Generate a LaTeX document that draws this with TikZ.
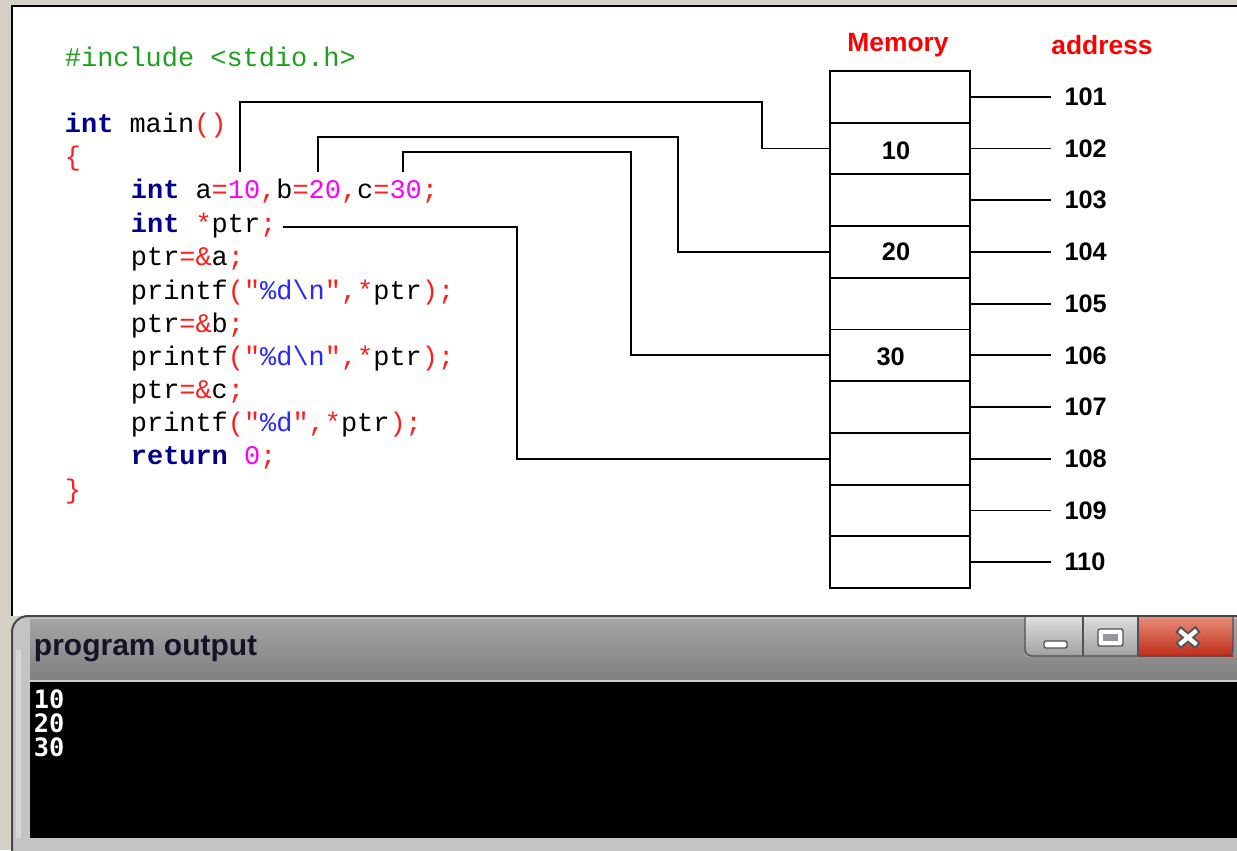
\documentclass[tikz,border=0pt]{standalone}
\usepackage{fontspec}
\newfontfamily\codefont{Liberation Mono}
\newfontfamily\labelfont{Liberation Sans}
\newfontfamily\termfont{DejaVu Sans Mono}

\definecolor{pagegray}{RGB}{212,208,200}
\definecolor{ppgreen}{RGB}{30,160,30}
\definecolor{kwblue}{RGB}{0,0,140}
\definecolor{punred}{RGB}{255,30,30}
\definecolor{numpink}{RGB}{255,0,255}
\definecolor{strblue}{RGB}{40,40,255}
\definecolor{framegray}{RGB}{196,196,196}
\definecolor{frameedge}{RGB}{70,70,70}
\definecolor{bartop}{RGB}{165,165,165}
\definecolor{barbot}{RGB}{128,128,128}
\definecolor{barline}{RGB}{205,205,205}
\definecolor{titleink}{RGB}{20,20,40}
\definecolor{btnedge}{RGB}{80,80,90}
\definecolor{btntop}{RGB}{222,222,222}
\definecolor{btnbot}{RGB}{160,160,160}
\definecolor{closetop}{RGB}{232,140,120}
\definecolor{closebot}{RGB}{190,45,25}
\definecolor{iconin}{RGB}{150,150,160}

\newcommand\ckw[1]{\textcolor{kwblue}{\bfseries #1}}
\newcommand\cpun[1]{\textcolor{punred}{#1}}
\newcommand\cnum[1]{\textcolor{numpink}{#1}}
\newcommand\cstr[1]{\textcolor{strblue}{#1}}

\begin{document}
\begin{tikzpicture}[x=0.75pt, y=-0.75pt, line width=1.4pt,
    code/.style={anchor=base west, inner sep=0pt, font=\codefont\fontsize{20.2}{24}\selectfont},
    cell/.style={draw, minimum width=105pt, minimum height=38.8pt, inner sep=0pt},
    val/.style={font=\labelfont\bfseries\fontsize{19}{22}\selectfont},
    addr/.style={anchor=west, xshift=9.5pt, inner sep=0pt, font=\labelfont\bfseries\fontsize{19}{22}\selectfont},
    head/.style={text=red, font=\labelfont\bfseries\fontsize{19.8}{22}\selectfont},
    term/.style={anchor=west, inner sep=0pt, text=white, font=\termfont\bfseries\fontsize{19}{22}\selectfont},
    icon/.style={draw=btnedge, fill=white, line width=1pt, rounded corners=1.5pt}]
  \useasboundingbox (0,0) rectangle (1237,850);
  % page and panel
  \fill[pagegray] (0,0) rectangle (1237,850);
  \fill[white] (12,6) rectangle (1237,616);
  \draw[black, line width=1.5pt] (12,616) -- (12,6) -- (1237,6);

  % source code
  \node[code] (inc) at (64,66) {\textcolor{ppgreen}{\#include <stdio.h>}};
  \node[code] (mainln) at (64,132) {\ckw{int} main\cpun{()}};
  \node[code] (lbrace) at (64,165) {\cpun{\{}};
  \node[code] (decl) at (130,198) {\ckw{int} a\cpun{=}\cnum{10}\cpun{,}b\cpun{=}\cnum{20}\cpun{,}c\cpun{=}\cnum{30}\cpun{;}};
  \node[code] (ptrdecl) at (130,232) {\ckw{int} \cpun{*}ptr\cpun{;}};
  \node[code] (asg1) at (130,265) {ptr\cpun{=\&}a\cpun{;}};
  \node[code] (pr1) at (130,299) {printf\cpun{("}\cstr{\%d\textbackslash n}\cpun{",*}ptr\cpun{);}};
  \node[code] (asg2) at (130,332) {ptr\cpun{=\&}b\cpun{;}};
  \node[code] (pr2) at (130,365) {printf\cpun{("}\cstr{\%d\textbackslash n}\cpun{",*}ptr\cpun{);}};
  \node[code] (asg3) at (130,398) {ptr\cpun{=\&}c\cpun{;}};
  \node[code] (pr3) at (130,431) {printf\cpun{("}\cstr{\%d}\cpun{",*}ptr\cpun{);}};
  \node[code] (ret) at (130,464) {\ckw{return} \cnum{0}\cpun{;}};
  \node[code] (rbrace) at (64,498) {\cpun{\}}};

  % memory cells and addresses
  \node[head] (memhd) at (898,45) {Memory};
  \node[head] (adrhd) at (1102,45) {address};
  \foreach \i in {1,...,10} {
    \node[cell] (m\i) at (900,{71+51.7*(\i-0.5)}) {};
    \pgfmathtruncatemacro{\adr}{100+\i}
    \draw (m\i.east) -- ++(80,0) node[addr] (a\i) {\adr};
  }
  \node[val, xshift=-3pt, yshift=-2pt] (v10) at (m2) {10};
  \node[val, xshift=-3pt] (v20) at (m4) {20};
  \node[val, xshift=-7pt, yshift=-1pt] (v30) at (m6) {30};

  % links from variables to cells
  \coordinate (pa) at (240,172);
  \coordinate (pb) at (318,172);
  \coordinate (pc) at (403,172);
  \coordinate (pd) at (283,227);
  \draw (pa) |- (762,102) |- (m2.west);
  \draw (pb) |- (678,137) |- (m4.west);
  \draw (pc) |- (631,152) |- (m6.west);
  \draw (pd) -- (517,227) |- (m8.west);

  % output window
  \draw[fill=framegray, draw=frameedge, line width=1.5pt, rounded corners=12] (12,616) rectangle (1262,900);
  \fill[white, opacity=0.35] (16,650) rectangle (21,838);
  \shade[top color=bartop, bottom color=barbot] (30,619) rectangle (1237,679);
  \draw[barline, line width=1.5pt] (30,680.5) -- (1237,680.5);
  \fill[black] (30,682) rectangle (1237,838);
  \node[anchor=west, inner sep=0pt, text=titleink, font=\labelfont\bfseries\fontsize{22.5}{26}\selectfont] (title) at (33,649) {program output};

  % window buttons
  \shade[top color=btntop, bottom color=btnbot] (1025,617) rectangle (1138,656);
  \shade[top color=closetop, bottom color=closebot] (1138,617) rectangle (1233,656);
  \draw[btnedge, line width=1pt, rounded corners=5] (1025,617) -- (1025,656) -- (1233,656) -- (1233,617);
  \draw[btnedge, line width=1pt] (1083,617) -- (1083,656) (1138,617) -- (1138,656);
  \draw[icon] (1044,641) rectangle (1067,648);
  \draw[icon] (1098,629) rectangle (1123,646);
  \fill[iconin] (1103,634) rectangle (1118,641);
  \draw[btnedge, line width=6pt] (1178,629) -- (1198,646) (1198,629) -- (1178,646);
  \draw[white, line width=3.2pt] (1179.5,630.5) -- (1196.5,644.5) (1196.5,630.5) -- (1179.5,644.5);

  % console text
  \node[term] (o1) at (33,699) {10};
  \node[term] (o2) at (33,723) {20};
  \node[term] (o3) at (33,747) {30};
\end{tikzpicture}
\end{document}
